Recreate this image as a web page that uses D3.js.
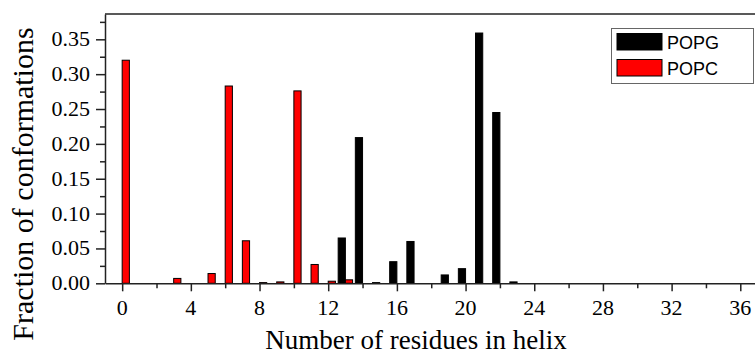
<!DOCTYPE html>
<html>
<head>
<meta charset="utf-8">
<script src="https://cdn.jsdelivr.net/npm/d3@7"></script>
<style>
  body { margin: 0; background: #fff; }
  svg { display: block; }
</style>
</head>
<body>
<div id="chart"></div>
<script>
// residues in helix vs fraction of conformations
var residues = d3.range(0, 24);
var popg = [0, 0, 0, 0, 0, 0, 0, 0, 0, 0, 0, 0, 0, 0.065, 0.209, 0.001, 0.031, 0.060, 0, 0.012, 0.021, 0.359, 0.245, 0.002];
var popc = [0.320, 0, 0, 0.007, 0, 0.014, 0.283, 0.061, 0.001, 0.002, 0.276, 0.027, 0.003, 0.005, 0, 0, 0, 0, 0, 0, 0, 0, 0, 0];
var xTicks = [0, 4, 8, 12, 16, 20, 24, 28, 32, 36];
var yTicks = [0, 0.05, 0.10, 0.15, 0.20, 0.25, 0.30, 0.35];
var seriesNames = ["POPG", "POPC"];
var seriesColors = ["#000000", "#ff0000"];

var width = 755, height = 356;
var serif = "Liberation Serif";

var svg = d3.select("#chart").append("svg")
    .attr("width", width)
    .attr("height", height);

var x = d3.scaleLinear().domain([-1, 37]).range([105, 105 + 38 * 17.17]);
var y = d3.scaleLinear().domain([0, 0.3863]).range([283.3, 14]);

var barW = 0.42;

// bars: POPG left of the tick, POPC right of it
var g = svg.append("g");
g.selectAll(".popg").data(residues.filter(function(d) { return popg[d] > 0; }))
    .enter().append("rect")
    .attr("class", "popg")
    .attr("x", function(d) { return x(d - barW); })
    .attr("width", x(barW) - x(0))
    .attr("y", function(d) { return y(popg[d]); })
    .attr("height", function(d) { return y(0) - y(popg[d]); })
    .attr("fill", seriesColors[0])
    .attr("stroke", "#000")
    .attr("stroke-width", 1);

g.selectAll(".popc").data(residues.filter(function(d) { return popc[d] > 0; }))
    .enter().append("rect")
    .attr("class", "popc")
    .attr("x", function(d) { return x(d); })
    .attr("width", x(barW) - x(0))
    .attr("y", function(d) { return y(popc[d]); })
    .attr("height", function(d) { return y(0) - y(popc[d]); })
    .attr("fill", seriesColors[1])
    .attr("stroke", "#000")
    .attr("stroke-width", 1);

// top frame
svg.append("line")
    .attr("x1", x(-1)).attr("x2", width)
    .attr("y1", y(0.3863)).attr("y2", y(0.3863))
    .attr("stroke", "#222").attr("stroke-width", 1.5);

// x axis (ticks only, labels drawn below)
svg.append("g")
    .attr("transform", "translate(0," + y(0) + ")")
    .call(d3.axisBottom(x).tickValues(xTicks).tickSize(8).tickSizeOuter(0).tickFormat(""));
svg.append("g")
    .attr("transform", "translate(0," + y(0) + ")")
    .call(d3.axisBottom(x).tickValues(d3.range(2, 38, 4)).tickSize(5).tickFormat(""))
    .select(".domain").remove();

// y axis
svg.append("g")
    .attr("transform", "translate(" + x(-1) + ",0)")
    .call(d3.axisLeft(y).tickValues(yTicks).tickSize(9).tickSizeOuter(0).tickFormat(""));
svg.append("g")
    .attr("transform", "translate(" + x(-1) + ",0)")
    .call(d3.axisLeft(y).tickValues(d3.range(0.025, 0.38, 0.05)).tickSize(5).tickFormat(""))
    .select(".domain").remove();

svg.selectAll(".domain").attr("stroke", "#222").attr("stroke-width", 1.5);
svg.selectAll(".tick line").attr("stroke", "#222").attr("stroke-width", 1.5);

// tick labels
svg.append("g").selectAll("text").data(xTicks)
    .enter().append("text")
    .attr("x", function(d) { return x(d); })
    .attr("y", 315)
    .attr("text-anchor", "middle")
    .attr("font-family", serif)
    .attr("font-size", 22)
    .text(function(d) { return d; });

var yFmt = d3.format(".2f");
svg.append("g").selectAll("text").data(yTicks)
    .enter().append("text")
    .attr("x", 90)
    .attr("y", function(d) { return y(d) + 7; })
    .attr("text-anchor", "end")
    .attr("font-family", serif)
    .attr("font-size", 22)
    .text(function(d) { return yFmt(d); });

// axis titles
svg.append("text")
    .attr("x", 416)
    .attr("y", 349)
    .attr("text-anchor", "middle")
    .attr("font-family", serif)
    .attr("font-size", 27)
    .text("Number of residues in helix");

svg.append("text")
    .attr("transform", "translate(33,184) rotate(-90)")
    .attr("text-anchor", "middle")
    .attr("font-family", serif)
    .attr("font-size", 30)
    .text("Fraction of conformations");

// legend
var legend = svg.append("g");
legend.append("rect")
    .attr("x", 611.5).attr("y", 28.5)
    .attr("width", 142).attr("height", 55)
    .attr("fill", "#fff").attr("stroke", "#666").attr("stroke-width", 1);
seriesNames.forEach(function(name, i) {
    legend.append("rect")
        .attr("x", 617).attr("y", 33.5 + i * 26)
        .attr("width", 45).attr("height", 16.5)
        .attr("fill", seriesColors[i]).attr("stroke", "#000");
    legend.append("text")
        .attr("x", 667).attr("y", 48.5 + i * 26)
        .attr("font-family", "Liberation Sans")
        .attr("font-size", 18)
        .text(name);
});
</script>
</body>
</html>
